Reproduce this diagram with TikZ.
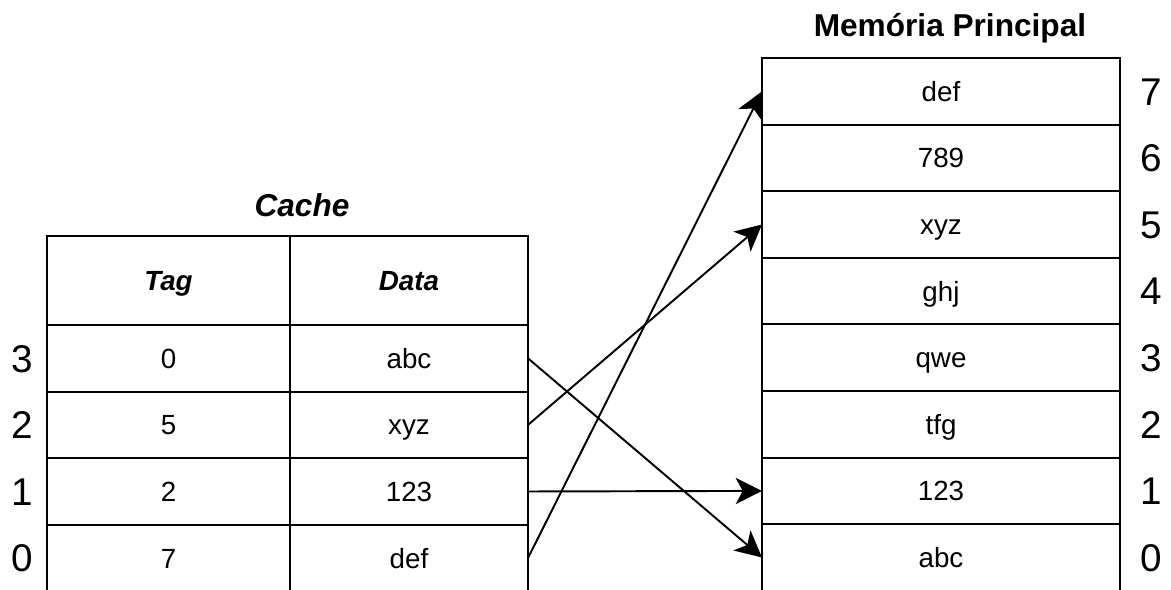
\documentclass[tikz,border=0pt]{standalone}
\usepackage{fontspec}
\setmainfont{Liberation Sans}
\usepackage{tikz}
\usetikzlibrary{positioning,arrows.meta}

\begin{document}
\begin{tikzpicture}[x=0.02cm, y=-0.02cm, line width=1.1pt, >={Stealth[length=15pt,width=15pt,inset=4pt]},
    cell/.style={draw, rectangle, inner sep=0pt, outer sep=0pt, minimum height=1.332cm, text height=11.3pt, text depth=0pt, font=\fontsize{15.8}{18}\selectfont},
    tagcol/.style={cell, minimum width=4.86cm},
    datacol/.style={cell, minimum width=4.76cm},
    memcell/.style={cell, minimum width=7.16cm},
    head/.style={minimum height=1.78cm, font=\fontsize{15.8}{18}\selectfont\bfseries\itshape},
    idx/.style={inner sep=0pt, text height=15.8pt, text depth=0pt, font=\fontsize{22}{26}\selectfont},
    title/.style={anchor=base, inner sep=0pt, font=\fontsize{18}{22}\selectfont\bfseries}]
    \useasboundingbox (0,0) rectangle (1171,590);
    \clip (0,0) rectangle (1171,590);

    % Titles
    \node[title] (cachetitle) at (302,217) {\itshape Cache};
    \node[title] (memtitle) at (950,37) {Memória Principal};

    % Cache
    \node[tagcol, head] (tag) at (168.5,280.5) {Tag};
    \node[datacol, head] (data) at (409,280.5) {Data};
    \node[tagcol] (c3t) at (168.5,358.3) {0};
    \node[datacol] (c3d) at (409,358.3) {abc};
    \node[tagcol] (c2t) at (168.5,424.9) {5};
    \node[datacol] (c2d) at (409,424.9) {xyz};
    \node[tagcol] (c1t) at (168.5,491.5) {2};
    \node[datacol] (c1d) at (409,491.5) {123};
    \node[tagcol] (c0t) at (168.5,558.1) {7};
    \node[datacol] (c0d) at (409,558.1) {def};
    \node[idx] (ci3) at (22,358.3) {3};
    \node[idx] (ci2) at (22,424.9) {2};
    \node[idx] (ci1) at (22,491.5) {1};
    \node[idx] (ci0) at (22,558.1) {0};

    % Main memory
    \node[memcell] (m7) at (941,91.3) {def};
    \node[memcell] (m6) at (941,157.9) {789};
    \node[memcell] (m5) at (941,224.5) {xyz};
    \node[memcell] (m4) at (941,291.1) {ghj};
    \node[memcell] (m3) at (941,357.7) {qwe};
    \node[memcell] (m2) at (941,424.3) {tfg};
    \node[memcell] (m1) at (941,490.9) {123};
    \node[memcell] (m0) at (941,557.5) {abc};
    \node[idx] (mi7) at (1151,91.3) {7};
    \node[idx] (mi6) at (1151,157.9) {6};
    \node[idx] (mi5) at (1151,224.5) {5};
    \node[idx] (mi4) at (1151,291.1) {4};
    \node[idx] (mi3) at (1151,357.7) {3};
    \node[idx] (mi2) at (1151,424.3) {2};
    \node[idx] (mi1) at (1151,490.9) {1};
    \node[idx] (mi0) at (1151,557.5) {0};

    % Arrows
    \draw[->] (c3d.east) -- (m0.west);
    \draw[->] (c2d.east) -- (m5.west);
    \draw[->] (c1d.east) -- (m1.west);
    \draw[->] (c0d.east) -- (m7.west);
\end{tikzpicture}
\end{document}
